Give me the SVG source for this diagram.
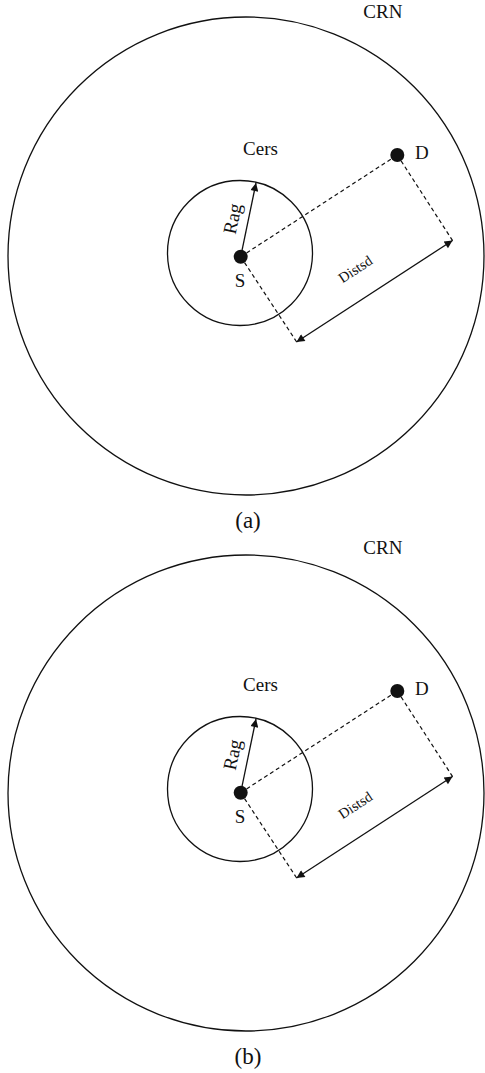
<svg xmlns="http://www.w3.org/2000/svg" width="485" height="1073" viewBox="0 0 485 1073">
  <style>
    .ring { fill: none; stroke: #111; stroke-width: 1.3; }
    .dash { fill: none; stroke: #111; stroke-width: 1.2; stroke-dasharray: 4 3; }
    .arrow { fill: none; stroke: #111; stroke-width: 1.3; }
    .dot { fill: #111; }
    .lbl { font-family: "Liberation Serif", "Times New Roman", serif; font-size: 19px; fill: #111; }
    .small { font-family: "Liberation Serif", "Times New Roman", serif; font-size: 14.5px; fill: #111; }
    .cap { font-family: "Liberation Serif", "Times New Roman", serif; font-size: 23px; fill: #111; }
  </style>
  <defs>
    <marker id="ah" viewBox="0 0 10 10" refX="10" refY="5" markerWidth="11" markerHeight="8" markerUnits="userSpaceOnUse" orient="auto-start-reverse">
      <path d="M0,0 L10,5 L0,10 z" fill="#111"/>
    </marker>
  </defs>

  <!-- Panel (a) -->
  <g id="panel-a">
    <g id="a-crn">
      <ellipse class="ring" cx="246" cy="256" rx="238" ry="239"/>
      <text class="lbl" x="363.3" y="18.3">CRN</text>
    </g>
    <g id="a-cers">
      <circle class="ring" cx="240" cy="253" r="72.5"/>
      <text class="lbl" x="260.5" y="155" text-anchor="middle">Cers</text>
    </g>
    <g id="a-connectors">
      <line class="dash" x1="240.7" y1="256.7" x2="397.3" y2="155"/>
      <line class="dash" x1="397.3" y1="155" x2="454" y2="242.8"/>
      <line class="dash" x1="240.7" y1="256.7" x2="298" y2="344"/>
      <line class="arrow" x1="240.7" y1="256.7" x2="256" y2="183" marker-end="url(#ah)"/>
      <line class="arrow" x1="296.5" y1="342" x2="452.5" y2="240.5" marker-start="url(#ah)" marker-end="url(#ah)"/>
      <text class="lbl" transform="translate(238.7,220) rotate(-78.4)" text-anchor="middle">Rag</text>
      <text class="small" transform="translate(358,273.3) rotate(-33.4)" text-anchor="middle">Distsd</text>
    </g>
    <g id="a-s">
      <circle class="dot" cx="240.7" cy="256.7" r="7"/>
      <text class="lbl" x="240" y="286.7" text-anchor="middle">S</text>
    </g>
    <g id="a-d">
      <circle class="dot" cx="397.3" cy="155" r="7"/>
      <text class="lbl" x="415" y="159.3">D</text>
    </g>
    <text class="cap" x="248" y="527.5" text-anchor="middle">(a)</text>
  </g>

  <!-- Panel (b) -->
  <g id="panel-b" transform="translate(0,536)">
    <g id="b-crn">
      <ellipse class="ring" cx="246" cy="257" rx="238" ry="238"/>
      <text class="lbl" x="363.3" y="18.3">CRN</text>
    </g>
    <g id="b-cers">
      <circle class="ring" cx="240" cy="253" r="72.5"/>
      <text class="lbl" x="260.5" y="155" text-anchor="middle">Cers</text>
    </g>
    <g id="b-connectors">
      <line class="dash" x1="240.7" y1="256.7" x2="397.3" y2="155"/>
      <line class="dash" x1="397.3" y1="155" x2="454" y2="242.8"/>
      <line class="dash" x1="240.7" y1="256.7" x2="298" y2="344"/>
      <line class="arrow" x1="240.7" y1="256.7" x2="256" y2="183" marker-end="url(#ah)"/>
      <line class="arrow" x1="296.5" y1="342" x2="452.5" y2="240.5" marker-start="url(#ah)" marker-end="url(#ah)"/>
      <text class="lbl" transform="translate(238.7,220) rotate(-78.4)" text-anchor="middle">Rag</text>
      <text class="small" transform="translate(358,273.3) rotate(-33.4)" text-anchor="middle">Distsd</text>
    </g>
    <g id="b-s">
      <circle class="dot" cx="240.7" cy="256.7" r="7"/>
      <text class="lbl" x="240" y="286.7" text-anchor="middle">S</text>
    </g>
    <g id="b-d">
      <circle class="dot" cx="397.3" cy="155" r="7"/>
      <text class="lbl" x="415" y="159.3">D</text>
    </g>
    <text class="cap" x="248" y="528" text-anchor="middle">(b)</text>
  </g>
</svg>
